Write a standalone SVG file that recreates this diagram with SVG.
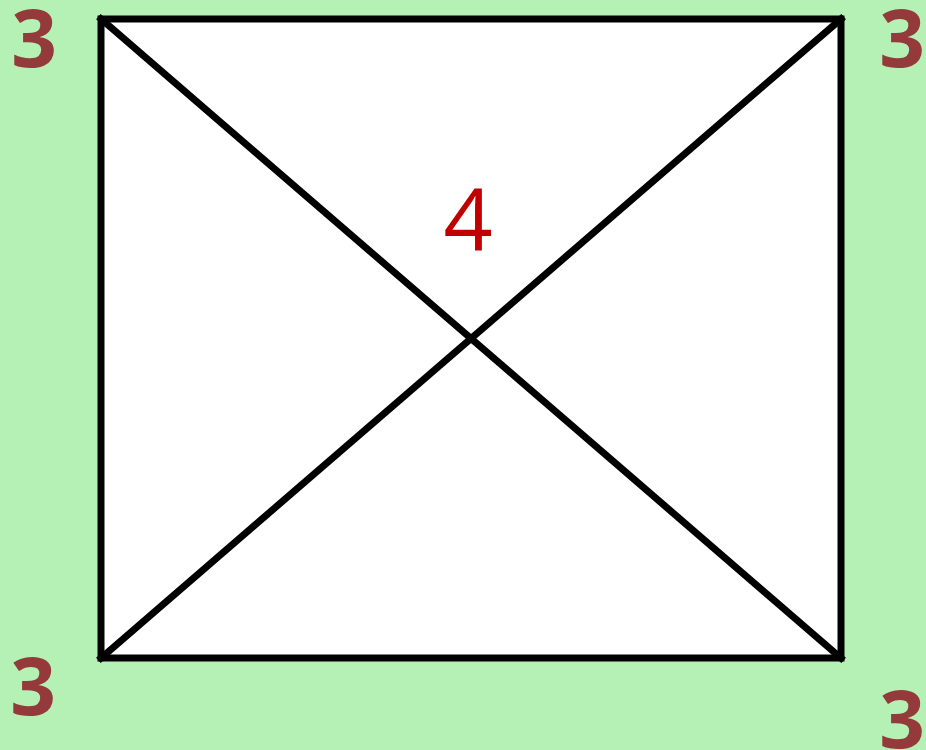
<svg xmlns="http://www.w3.org/2000/svg" width="926" height="750" viewBox="0 0 926 750">
<style>
.num{font-family:"Open Sans","Liberation Sans",sans-serif;font-weight:bold;font-size:80px;fill:#943a3a;text-anchor:middle}
.c{font-family:"Open Sans","Liberation Sans",sans-serif;font-size:86px;fill:#c00000;text-anchor:middle}
.ln{stroke:#000;stroke-width:7;fill:none;stroke-linecap:square}
.bx{stroke:#000;stroke-width:7;fill:#fff}
</style>
<rect x="0" y="0" width="926" height="750" fill="#b5f0b5"/>
<g id="box">
<rect class="bx" x="101" y="19" width="740" height="639"/>
</g>
<g id="connectors">
<line class="ln" x1="101" y1="19" x2="841" y2="658"/>
<line class="ln" x1="841" y1="19" x2="101" y2="658"/>
</g>
<g id="labels">
<text class="num" x="34" y="67">3</text>
<text class="num" x="902" y="67">3</text>
<text class="num" x="33" y="715">3</text>
<text class="num" x="902" y="748">3</text>
<text class="c" x="468" y="250">4</text>
</g>
</svg>
